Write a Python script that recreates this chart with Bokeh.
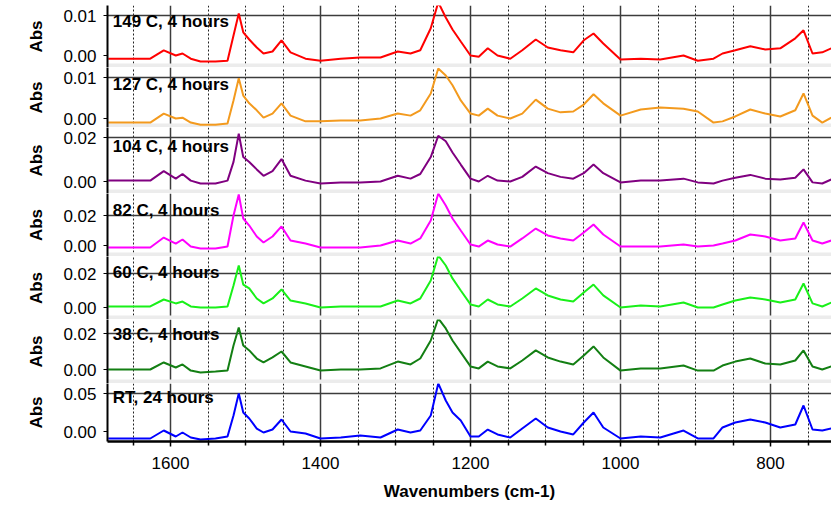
from bokeh.plotting import figure
from bokeh.layouts import column
from bokeh.models import Range1d, FixedTicker, PrintfTickFormatter, Label, BoxAnnotation
from bokeh.embed import file_html
from bokeh.resources import INLINE

# ---------------- data ----------------
wavenumber = [1683, 1653, 1627, 1609, 1593, 1584, 1573, 1560, 1540, 1524,
              1516, 1509, 1503, 1495, 1485, 1476, 1464, 1452, 1440, 1420,
              1400, 1373, 1347, 1320, 1297, 1280, 1267, 1253, 1243, 1233,
              1224, 1213, 1200, 1189, 1177, 1164, 1147, 1131, 1113, 1097,
              1080, 1063, 1049, 1036, 1023, 1000, 973, 947, 916, 897,
              876, 864, 847, 827, 807, 787, 767, 756, 744, 731, 719]

abs_149c = [-0.0008, -0.0008, -0.0008, 0.0013, 0.0000, 0.0005, -0.0008, -0.0015, -0.0015, -0.0013,
            0.0050, 0.0105, 0.0058, 0.0040, 0.0020, 0.0005, 0.0010, 0.0038, 0.0008, -0.0008,
            -0.0013, -0.0008, -0.0005, -0.0005, 0.0010, 0.0005, 0.0013, 0.0068, 0.0133, 0.0095,
            0.0065, 0.0035, 0.0000, -0.0003, 0.0018, 0.0000, -0.0008, 0.0013, 0.0040, 0.0020,
            0.0013, 0.0008, 0.0038, 0.0055, 0.0030, -0.0010, -0.0008, -0.0010, 0.0000, -0.0013,
            -0.0008, 0.0005, 0.0013, 0.0023, 0.0015, 0.0018, 0.0043, 0.0063, 0.0005, 0.0008, 0.0018]

abs_127c = [-0.0010, -0.0010, -0.0010, 0.0012, 0.0000, 0.0002, -0.0010, -0.0015, -0.0015, -0.0012,
            0.0044, 0.0098, 0.0056, 0.0037, 0.0020, 0.0002, 0.0012, 0.0037, 0.0007, -0.0007,
            -0.0007, -0.0005, -0.0005, 0.0000, 0.0012, 0.0007, 0.0020, 0.0061, 0.0122, 0.0105,
            0.0081, 0.0044, 0.0012, 0.0007, 0.0024, 0.0007, 0.0000, 0.0012, 0.0046, 0.0024,
            0.0015, 0.0017, 0.0034, 0.0059, 0.0037, 0.0007, 0.0022, 0.0027, 0.0024, 0.0017,
            -0.0010, -0.0007, 0.0005, 0.0022, 0.0012, 0.0005, 0.0020, 0.0061, 0.0007, -0.0010, 0.0002]

abs_104c = [0.0004, 0.0004, 0.0004, 0.0047, 0.0013, 0.0034, 0.0004, -0.0009, -0.0009, 0.0004,
            0.0089, 0.0217, 0.0111, 0.0089, 0.0055, 0.0026, 0.0047, 0.0102, 0.0026, 0.0004,
            -0.0009, -0.0004, -0.0004, 0.0000, 0.0026, 0.0013, 0.0034, 0.0111, 0.0208, 0.0183,
            0.0132, 0.0077, 0.0013, 0.0000, 0.0026, 0.0004, 0.0000, 0.0021, 0.0068, 0.0038,
            0.0021, 0.0013, 0.0038, 0.0077, 0.0038, -0.0004, 0.0004, 0.0004, 0.0013, -0.0004,
            -0.0009, 0.0004, 0.0017, 0.0030, 0.0013, 0.0009, 0.0017, 0.0055, -0.0004, -0.0009, 0.0009]

abs_82c = [-0.0013, -0.0013, -0.0013, 0.0053, 0.0013, 0.0040, -0.0007, -0.0020, -0.0020, -0.0007,
           0.0200, 0.0340, 0.0180, 0.0133, 0.0060, 0.0020, 0.0060, 0.0127, 0.0033, 0.0013,
           -0.0013, -0.0013, -0.0013, 0.0000, 0.0033, 0.0013, 0.0047, 0.0167, 0.0347, 0.0267,
           0.0180, 0.0100, 0.0007, -0.0007, 0.0033, 0.0007, -0.0007, 0.0047, 0.0113, 0.0067,
           0.0047, 0.0033, 0.0087, 0.0140, 0.0073, -0.0007, -0.0007, -0.0007, 0.0007, -0.0007,
           0.0000, 0.0013, 0.0033, 0.0073, 0.0060, 0.0033, 0.0047, 0.0153, 0.0033, 0.0013, 0.0033]

abs_60c = [0.0006, 0.0006, 0.0006, 0.0047, 0.0024, 0.0035, 0.0006, 0.0000, 0.0000, 0.0006,
           0.0129, 0.0247, 0.0135, 0.0112, 0.0053, 0.0024, 0.0053, 0.0106, 0.0041, 0.0024,
           0.0000, 0.0006, 0.0006, 0.0006, 0.0041, 0.0024, 0.0053, 0.0159, 0.0306, 0.0247,
           0.0171, 0.0100, 0.0018, 0.0006, 0.0047, 0.0018, 0.0006, 0.0053, 0.0112, 0.0071,
           0.0047, 0.0035, 0.0088, 0.0135, 0.0071, 0.0000, 0.0012, 0.0006, 0.0029, 0.0000,
           0.0000, 0.0018, 0.0041, 0.0059, 0.0047, 0.0029, 0.0047, 0.0141, 0.0024, 0.0006, 0.0029]

abs_38c = [0.0000, 0.0000, 0.0000, 0.0039, 0.0011, 0.0028, -0.0006, -0.0017, -0.0011, -0.0006,
           0.0133, 0.0233, 0.0133, 0.0106, 0.0061, 0.0039, 0.0067, 0.0100, 0.0039, 0.0017,
           -0.0006, 0.0000, 0.0000, 0.0006, 0.0044, 0.0028, 0.0061, 0.0161, 0.0284, 0.0228,
           0.0161, 0.0095, 0.0017, 0.0006, 0.0044, 0.0017, 0.0006, 0.0050, 0.0106, 0.0067,
           0.0044, 0.0028, 0.0078, 0.0128, 0.0067, -0.0006, 0.0006, 0.0006, 0.0022, -0.0006,
           -0.0006, 0.0022, 0.0044, 0.0061, 0.0033, 0.0028, 0.0050, 0.0106, 0.0017, 0.0000, 0.0017]

abs_rt = [-0.0092, -0.0092, -0.0092, 0.0013, -0.0066, -0.0013, -0.0079, -0.0105, -0.0092, -0.0066,
          0.0211, 0.0500, 0.0250, 0.0171, 0.0039, -0.0013, 0.0026, 0.0158, 0.0000, -0.0026,
          -0.0092, -0.0079, -0.0053, -0.0079, 0.0026, -0.0013, 0.0013, 0.0211, 0.0632, 0.0408,
          0.0250, 0.0145, -0.0066, -0.0066, 0.0026, -0.0039, -0.0079, 0.0039, 0.0171, 0.0053,
          0.0000, -0.0039, 0.0118, 0.0250, 0.0053, -0.0092, -0.0066, -0.0079, 0.0013, -0.0092,
          -0.0092, 0.0053, 0.0118, 0.0158, 0.0118, 0.0053, 0.0092, 0.0342, 0.0026, 0.0013, 0.0039]

sample_names = ["149 C, 4 hours", "127 C, 4 hours", "104 C, 4 hours", "82 C, 4 hours",
                "60 C, 4 hours", "38 C, 4 hours", "RT, 24 hours"]
series = [abs_149c, abs_127c, abs_104c, abs_82c, abs_60c, abs_38c, abs_rt]
y_top_ticks = [0.01, 0.01, 0.02, 0.02, 0.02, 0.02, 0.05]
x_major_ticks = [1600, 1400, 1200, 1000, 800]
x_minor_ticks = [1650, 1550, 1500, 1450, 1350, 1300, 1250, 1150, 1100, 1050, 950, 900, 850, 750]

# ---------------- layout / style (page pixels) ----------------
colors = ["#ff0000", "#f39a1e", "#800080", "#ff00ff", "#19f019", "#137f13", "#0000ff"]
frame_top = [5, 67, 127, 193, 256, 319, 383]
frame_bot = [67, 127, 193, 256, 319, 383, 441]
zero_px = [55, 118, 181, 245, 307, 369, 431]
top_px = [15, 77, 137, 215, 273, 333, 393]
label_px = [21, 84, 146, 210, 272, 334, 397]
FONT = "Liberation Sans"
LEFT_BORDER = 107
BOTTOM_BORDER = 64
FIG_W = 831

x_range = Range1d(1684, 718.7)
figs = []
n = len(series)
for i in range(n):
    vtop = y_top_ticks[i]
    T, B, y0, yt, yl = frame_top[i], frame_bot[i], zero_px[i], top_px[i], label_px[i]
    s = vtop / (y0 - yt)
    y_start = -(B - y0) * s
    y_end = vtop + (yt - T) * s
    first = (i == 0)
    last = (i == n - 1)
    top_border = T if first else 0
    h = (B - T) + top_border + (BOTTOM_BORDER if last else 0)
    p = figure(width=FIG_W, height=h, x_range=x_range, y_range=Range1d(y_start, y_end),
               output_backend="svg", toolbar_location=None,
               x_axis_location="below" if last else None,
               min_border_left=LEFT_BORDER, min_border_right=0, min_border_top=top_border,
               min_border_bottom=BOTTOM_BORDER if last else 0)
    p.outline_line_color = None
    p.background_fill_color = "white"
    p.border_fill_color = "white"

    # grids
    p.xgrid.ticker = FixedTicker(ticks=x_major_ticks, minor_ticks=x_minor_ticks)
    p.xgrid.grid_line_color = "#3c3c3c"
    p.xgrid.grid_line_width = 1.5
    p.xgrid.minor_grid_line_color = "#222222"
    p.xgrid.minor_grid_line_dash = "2 2"
    p.xgrid.minor_grid_line_width = 1
    p.ygrid.ticker = FixedTicker(ticks=[vtop])
    p.ygrid.grid_line_color = "#3c3c3c"
    p.ygrid.grid_line_width = 1.6

    # separator band
    if not last:
        p.add_layout(BoxAnnotation(bottom=y_start, top=y_start + 4 * s,
                                   fill_color="#ececec", fill_alpha=1.0,
                                   line_color=None, level="underlay"))

    # y axis
    ya = p.yaxis[0]
    ya.ticker = FixedTicker(ticks=[0, vtop])
    ya.formatter = PrintfTickFormatter(format="%.2f")
    ya.axis_label = "Abs"
    ya.axis_label_text_font = FONT
    ya.axis_label_text_font_size = "17px"
    ya.axis_label_text_font_style = "bold"
    ya.axis_label_text_color = "black"
    ya.axis_label_standoff = 14
    ya.major_label_text_font = FONT
    ya.major_label_text_font_size = "17px"
    ya.major_label_text_color = "black"
    ya.major_label_standoff = 7
    ya.major_tick_out = 4
    ya.major_tick_in = 0
    ya.major_tick_line_color = "black"
    ya.minor_tick_line_color = None
    ya.axis_line_color = "black"
    ya.axis_line_width = 2

    p.line(wavenumber, series[i], line_color=colors[i], line_width=2)

    p.add_layout(Label(x=1677, y=(y0 - yl) * s, text=sample_names[i],
                       text_font=FONT, text_font_size="17px", text_font_style="bold",
                       text_color="black", text_baseline="middle", text_align="left"))

    if last:
        xa = p.xaxis[0]
        xa.ticker = FixedTicker(ticks=x_major_ticks, minor_ticks=x_minor_ticks)
        xa.formatter = PrintfTickFormatter(format="%d")
        xa.axis_label = "Wavenumbers (cm-1)"
        xa.axis_label_text_font = FONT
        xa.axis_label_text_font_size = "17px"
        xa.axis_label_text_font_style = "bold"
        xa.axis_label_text_color = "black"
        xa.axis_label_standoff = 10
        xa.major_label_text_font = FONT
        xa.major_label_text_font_size = "17px"
        xa.major_label_text_color = "black"
        xa.major_label_standoff = 10
        xa.major_tick_out = 5
        xa.major_tick_in = 0
        xa.minor_tick_out = 4
        xa.minor_tick_in = 0
        xa.major_tick_line_width = 1.5
        xa.minor_tick_line_width = 1.5
        xa.axis_line_color = "black"
        xa.axis_line_width = 2.5
    figs.append(p)

layout = column(*figs)
open("out.html", "w").write(file_html(layout, INLINE, "IR spectra"))
